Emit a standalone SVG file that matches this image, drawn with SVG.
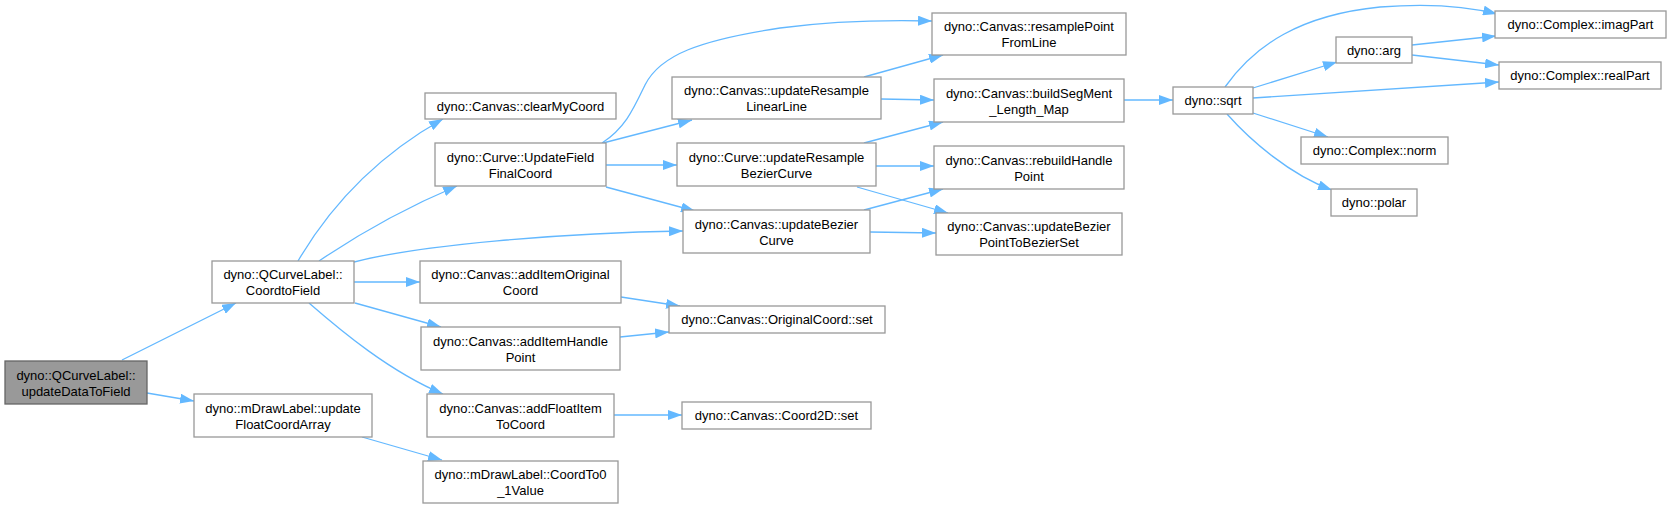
<svg xmlns="http://www.w3.org/2000/svg" width="1670" height="509" viewBox="0 0 1670 509">
<style>
.n rect{fill:#ffffff;stroke:#999999;stroke-width:1.3}
.root rect{fill:#999999;stroke:#666666;stroke-width:1.3}
text{font-family:"Liberation Sans",Arial,sans-serif;font-size:13px;fill:#000000;text-anchor:middle}
.e path{fill:none;stroke:#63b8ff;stroke-width:1.3;marker-end:url(#a)}
</style>
<defs>
<marker id="a" markerWidth="14" markerHeight="10" refX="14" refY="5" orient="auto" markerUnits="userSpaceOnUse"><path d="M0,0 L14,5 L0,10 z" fill="#63b8ff"/></marker>
</defs>
<rect width="1670" height="509" fill="#ffffff"/>
<g id="edges" class="e">
<path d="M122,360 L236,303"/>
<path d="M147,393 L194,401"/>
<path d="M298,261 C325,215 370,160 443,119"/>
<path d="M319,261 C350,240 400,210 457,186"/>
<path d="M354,262 C420,245 560,233 683,231"/>
<path d="M354,282 L420,282"/>
<path d="M355,303 L441,327"/>
<path d="M309,303 C340,330 390,372 443,394"/>
<path d="M362,437 L442,460"/>
<path d="M602,143 C625,128 633,110 645,85 C660,55 700,40 780,28 C840,20 890,20 932,21"/>
<path d="M603,143 L692,120"/>
<path d="M606,165 L677,165"/>
<path d="M606,187 L695,211"/>
<path d="M864,77 L943,55"/>
<path d="M881,99 L934,100"/>
<path d="M864,143 L943,122"/>
<path d="M876,166 L934,166"/>
<path d="M857,187 L948,213"/>
<path d="M864,210 L943,189"/>
<path d="M870,232 L936,233"/>
<path d="M621,297 L680,306"/>
<path d="M620,337 L669,332"/>
<path d="M614,415 L682,415"/>
<path d="M1124,100 L1173,100"/>
<path d="M1225,87 C1255,45 1300,15 1380,7 C1430,3 1470,7 1497,14"/>
<path d="M1253,88 L1337,62"/>
<path d="M1253,98 L1499,82"/>
<path d="M1253,113 L1328,137"/>
<path d="M1227,114 C1250,140 1290,175 1332,190"/>
<path d="M1412,45 L1496,36"/>
<path d="M1412,55 L1499,65"/>
</g>
<g id="n_updateDataToField" class="root"><rect x="5" y="361" width="142" height="43"/><text x="76" y="379.5">dyno::QCurveLabel::</text><text x="76" y="395.5">updateDataToField</text></g>
<g id="n_CoordtoField" class="n"><rect x="212" y="261" width="142" height="42"/><text x="283" y="279">dyno::QCurveLabel::</text><text x="283" y="295">CoordtoField</text></g>
<g id="n_updateFloatCoordArray" class="n"><rect x="194" y="394" width="178" height="43"/><text x="283" y="412.5">dyno::mDrawLabel::update</text><text x="283" y="428.5">FloatCoordArray</text></g>
<g id="n_clearMyCoord" class="n"><rect x="425" y="93" width="191" height="26"/><text x="520.5" y="110.5">dyno::Canvas::clearMyCoord</text></g>
<g id="n_UpdateFieldFinalCoord" class="n"><rect x="435" y="143" width="171" height="43"/><text x="520.5" y="161.5">dyno::Curve::UpdateField</text><text x="520.5" y="177.5">FinalCoord</text></g>
<g id="n_addItemOriginalCoord" class="n"><rect x="420" y="261" width="201" height="42"/><text x="520.5" y="279">dyno::Canvas::addItemOriginal</text><text x="520.5" y="295">Coord</text></g>
<g id="n_addItemHandlePoint" class="n"><rect x="421" y="327" width="199" height="43"/><text x="520.5" y="345.5">dyno::Canvas::addItemHandle</text><text x="520.5" y="361.5">Point</text></g>
<g id="n_addFloatItemToCoord" class="n"><rect x="427" y="394" width="187" height="43"/><text x="520.5" y="412.5">dyno::Canvas::addFloatItem</text><text x="520.5" y="428.5">ToCoord</text></g>
<g id="n_CoordTo0_1Value" class="n"><rect x="423" y="461" width="195" height="42"/><text x="520.5" y="479">dyno::mDrawLabel::CoordTo0</text><text x="520.5" y="495">_1Value</text></g>
<g id="n_updateResampleLinearLine" class="n"><rect x="672" y="77" width="209" height="42"/><text x="776.5" y="95">dyno::Canvas::updateResample</text><text x="776.5" y="111">LinearLine</text></g>
<g id="n_updateResampleBezierCurve" class="n"><rect x="677" y="143" width="199" height="43"/><text x="776.5" y="161.5">dyno::Curve::updateResample</text><text x="776.5" y="177.5">BezierCurve</text></g>
<g id="n_updateBezierCurve" class="n"><rect x="683" y="210" width="187" height="43"/><text x="776.5" y="228.5">dyno::Canvas::updateBezier</text><text x="776.5" y="244.5">Curve</text></g>
<g id="n_OriginalCoord_set" class="n"><rect x="669" y="306" width="216" height="27"/><text x="777" y="324">dyno::Canvas::OriginalCoord::set</text></g>
<g id="n_Coord2D_set" class="n"><rect x="682" y="402" width="189" height="27"/><text x="776.5" y="420">dyno::Canvas::Coord2D::set</text></g>
<g id="n_resamplePointFromLine" class="n"><rect x="932" y="13" width="194" height="42"/><text x="1029" y="31">dyno::Canvas::resamplePoint</text><text x="1029" y="47">FromLine</text></g>
<g id="n_buildSegMent_Length_Map" class="n"><rect x="934" y="79" width="190" height="43"/><text x="1029" y="97.5">dyno::Canvas::buildSegMent</text><text x="1029" y="113.5">_Length_Map</text></g>
<g id="n_rebuildHandlePoint" class="n"><rect x="934" y="146" width="190" height="43"/><text x="1029" y="164.5">dyno::Canvas::rebuildHandle</text><text x="1029" y="180.5">Point</text></g>
<g id="n_updateBezierPointToBezierSet" class="n"><rect x="936" y="213" width="186" height="42"/><text x="1029" y="231">dyno::Canvas::updateBezier</text><text x="1029" y="247">PointToBezierSet</text></g>
<g id="n_sqrt" class="n"><rect x="1173" y="87" width="80" height="27"/><text x="1213" y="105">dyno::sqrt</text></g>
<g id="n_imagPart" class="n"><rect x="1495" y="11" width="171" height="27"/><text x="1580.5" y="29">dyno::Complex::imagPart</text></g>
<g id="n_arg" class="n"><rect x="1336" y="37" width="76" height="26"/><text x="1374" y="54.5">dyno::arg</text></g>
<g id="n_realPart" class="n"><rect x="1499" y="62" width="162" height="27"/><text x="1580" y="80">dyno::Complex::realPart</text></g>
<g id="n_norm" class="n"><rect x="1301" y="137" width="147" height="27"/><text x="1374.5" y="155">dyno::Complex::norm</text></g>
<g id="n_polar" class="n"><rect x="1331" y="189" width="86" height="27"/><text x="1374" y="207">dyno::polar</text></g>
</svg>
